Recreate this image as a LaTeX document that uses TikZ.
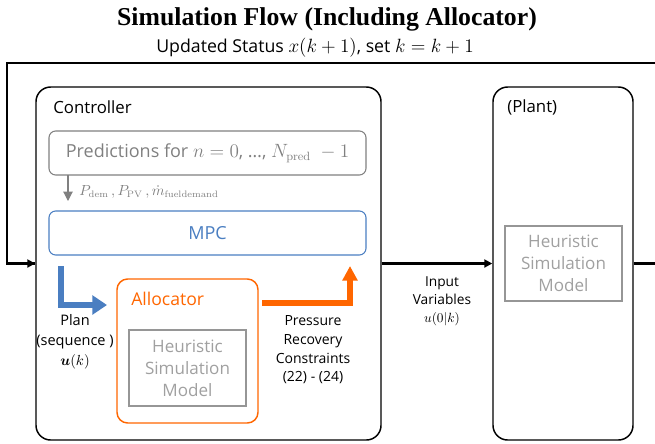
\documentclass[tikz,border=0pt]{standalone}
\usepackage{amsmath}
\usepackage{bm}
\usepackage[no-math]{fontspec}
\setmainfont{Open Sans}
\newfontfamily\titlefont{Liberation Serif}
\usetikzlibrary{arrows.meta}
\definecolor{mpcblue}{RGB}{74,126,193}
\definecolor{allorange}{RGB}{255,102,0}
\definecolor{predgray}{RGB}{128,128,128}
\definecolor{heurgray}{RGB}{150,150,150}
\definecolor{heurtext}{RGB}{160,160,160}
\tikzset{
  bigbox/.style={draw=black, line width=1.1pt, rounded corners=11pt},
  predbox/.style={draw=predgray, line width=0.8pt, rounded corners=5pt, minimum width=237.75pt, minimum height=33pt, inner sep=0pt},
  mpcbox/.style={draw=mpcblue, line width=0.8pt, rounded corners=5pt, minimum width=237.75pt, minimum height=33pt, inner sep=0pt},
  allbox/.style={draw=allorange, line width=1.1pt, rounded corners=8pt, minimum width=105.75pt, minimum height=108pt, inner sep=0pt},
  heurbox/.style={draw=heurgray, line width=1.1pt, minimum width=87.75pt, inner sep=0pt, align=center, text=heurtext, font=\fontsize{12.8}{16.5}\selectfont},
  fbline/.style={line width=2.2pt, draw=black},
  fbarrow/.style={line width=2.2pt, draw=black, -{Triangle[length=6pt,width=6pt]}},
  lbl/.style={align=center, inner sep=0pt},
}
\begin{document}
\begin{tikzpicture}[x=0.75pt,y=-0.75pt]
\useasboundingbox (0,0) rectangle (655,443);
% title
\node[font=\titlefont\bfseries\fontsize{19.3}{22}\selectfont] (title) at (327,19) {Simulation Flow (Including Allocator)};
\node[font=\fontsize{13.3}{15}\selectfont] (upd) at (315,48) {Updated Status $x(k+1)$, set $k=k+1$};
% big boxes
\node[bigbox, minimum width=258.75pt, minimum height=264.75pt, inner sep=0pt] (ctrl) at (208.5,263.5) {};
\node[bigbox, minimum width=105pt, minimum height=264.75pt, inner sep=0pt] (plant) at (563,263.5) {};
\node[anchor=west, inner sep=0pt, font=\fontsize{12.6}{14}\selectfont] (ctrlt) at (53,107) {Controller};
\node[anchor=west, inner sep=0pt, font=\fontsize{12.6}{14}\selectfont] (plantt) at (507,107) {(Plant)};
% predictions and MPC
\node[predbox, text=predgray, font=\fontsize{13.5}{15}\selectfont] (pred) at (207.5,153) {Predictions for $n=0$, …, $N_{\mathrm{pred}}\;-1$};
\node[mpcbox, text=mpcblue, font=\fontsize{13.5}{15}\selectfont] (mpc) at (207.5,233) {MPC};
\coordinate (pa) at (68,175);
\coordinate (pb) at (68,201);
\draw[predgray, line width=0.8pt, -{Triangle[length=7pt,width=7pt]}] (pa) -- (pb);
\node[anchor=west, inner sep=0pt, text=predgray, font=\fontsize{10.5}{12}\selectfont] (plbl) at (79,192) {$P_{\mathrm{dem}}\,,P_{\mathrm{PV}}\,,\dot m_{\mathrm{fueldemand}}$};
% allocator
\node[allbox] (alloc) at (187.5,351) {};
\node[anchor=west, inner sep=0pt, text=allorange, font=\fontsize{13.2}{15}\selectfont] (alloct) at (131,299) {Allocator};
\node[heurbox, minimum height=57pt] (heur1) at (187.5,368) {Heuristic\\Simulation\\Model};
% plant heuristic
\node[heurbox, minimum height=56.25pt] (heur2) at (563.5,263.5) {Heuristic\\Simulation\\Model};
% blue arrow
\coordinate (ba) at (61,266);
\coordinate (bb) at (61,305);
\draw[mpcblue, line width=3.8pt, -{Triangle[length=11pt,width=14pt]}] (ba) -- (bb) -- (107,305);
% orange arrow
\coordinate (oa) at (262,303);
\coordinate (ob) at (350,303);
\draw[allorange, line width=4pt, -{Triangle[length=11pt,width=11pt]}] (oa) -- (ob) -- (350,266);
% labels
\node[lbl, font=\fontsize{10.9}{15}\selectfont] (plan) at (75,342) {Plan\\(sequence )\\$\bm{u}(k)$};
\node[lbl, font=\fontsize{10.5}{14}\selectfont] (press) at (313,350) {Pressure\\Recovery\\Constraints\\(22) - (24)};
\node[lbl, font=\fontsize{10.3}{13.5}\selectfont] (inp) at (442,301) {Input\\Variables\\$u(0|k)$};
% input arrow
\draw[fbarrow] (ctrl.east) -- (plant.west);
% feedback
\coordinate (fr) at (660,263.5);
\coordinate (ftr) at (660,63);
\coordinate (ftl) at (7,63);
\draw[fbline] (plant.east) -- (fr) -- (ftr) -- (ftl) |- (ctrl.west);
\draw[fbarrow] (20,263.5) -- (ctrl.west);
\end{tikzpicture}
\end{document}
